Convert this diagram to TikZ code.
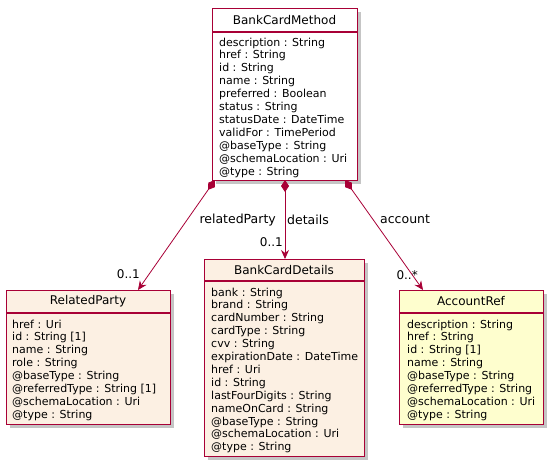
\documentclass[tikz,border=0pt]{standalone}
\usepackage{fontspec}
\setmainfont{DejaVu Sans}
\usetikzlibrary{arrows.meta,shadows}
\definecolor{umlborder}{HTML}{A80036}
\definecolor{umlbeige}{HTML}{FCF0E3}
\definecolor{umlyellow}{HTML}{FEFECE}
\tikzset{
  classbox/.style={draw=umlborder, line width=1.2pt, inner sep=0pt, anchor=north west,
    drop shadow={shadow xshift=3.5pt, shadow yshift=-3.5pt, fill=black!45, opacity=0.5}},
  hdr/.style={draw=umlborder, line width=1.2pt},
  ttl/.style={font=\fontsize{12}{14}\selectfont, inner sep=0pt, anchor=center},
  attrs/.style={font=\fontsize{11}{12.9}\selectfont, align=left, inner sep=0pt, anchor=north west},
  conn/.style={draw=umlborder, line width=0.8pt, {Diamond[length=12pt,width=8pt,fill=umlborder]}-{Stealth[length=9pt,width=8pt,inset=3pt,fill=umlborder]}},
  lbl/.style={font=\fontsize{12.5}{14}\selectfont, inner sep=0pt},
  mult/.style={font=\fontsize{12}{14}\selectfont, inner sep=0pt}
}
\begin{document}
\begin{tikzpicture}[x=1pt,y=-1pt]
\useasboundingbox (0,0) rectangle (553,466);
% BankCardMethod
\node[classbox, fill=white, minimum width=145pt, minimum height=172pt] (bcm) at (212,8) {};
\draw[hdr] (212,32) -- (357,32);
\node[ttl] (bcmt) at (284.5,20.5) {BankCardMethod};
\node[attrs] (bcma) at (219,37.5) {description : String\\href : String\\id : String\\name : String\\preferred : Boolean\\status : String\\statusDate : DateTime\\validFor : TimePeriod\\@baseType : String\\@schemaLocation : Uri\\@type : String};
% RelatedParty
\node[classbox, fill=umlbeige, minimum width=164pt, minimum height=134pt] (rp) at (6,290) {};
\draw[hdr] (6,313) -- (170,313);
\node[ttl] (rpt) at (88,301.5) {RelatedParty};
\node[attrs] (rpa) at (12,319.5) {href : Uri\\id : String [1]\\name : String\\role : String\\@baseType : String\\@referredType : String [1]\\@schemaLocation : Uri\\@type : String};
% BankCardDetails
\node[classbox, fill=umlbeige, minimum width=160pt, minimum height=197pt] (bcd) at (204,259) {};
\draw[hdr] (204,281) -- (364,281);
\node[ttl] (bcdt) at (284,270) {BankCardDetails};
\node[attrs] (bcda) at (211,287.5) {bank : String\\brand : String\\cardNumber : String\\cardType : String\\cvv : String\\expirationDate : DateTime\\href : Uri\\id : String\\lastFourDigits : String\\nameOnCard : String\\@baseType : String\\@schemaLocation : Uri\\@type : String};
% AccountRef
\node[classbox, fill=umlyellow, minimum width=144pt, minimum height=134pt] (ar) at (399,290) {};
\draw[hdr] (399,313) -- (543,313);
\node[ttl] (art) at (471,301.5) {AccountRef};
\node[attrs] (ara) at (407,319.5) {description : String\\href : String\\id : String [1]\\name : String\\@baseType : String\\@referredType : String\\@schemaLocation : Uri\\@type : String};
% connector endpoints
\coordinate (s1) at (215,180);
\coordinate (s2) at (285,180);
\coordinate (s3) at (345,180);
\coordinate (e1) at (138,290);
\coordinate (e2) at (285,259);
\coordinate (e3) at (423,290);
\draw[conn] (s1) -- (e1);
\draw[conn] (s2) -- (e2);
\draw[conn] (s3) -- (e3);
% labels
\node[lbl, anchor=east] (l1) at (276,220) {relatedParty};
\node[lbl, anchor=west] (l2) at (287,220) {details};
\node[lbl, anchor=west] (l3) at (380,219) {account};
\node[mult, anchor=east] (m1) at (140,274.5) {0..1};
\node[mult, anchor=east] (m2) at (283,242) {0..1};
\node[mult, anchor=east] (m3) at (418,275) {0..*};
\end{tikzpicture}
\end{document}
